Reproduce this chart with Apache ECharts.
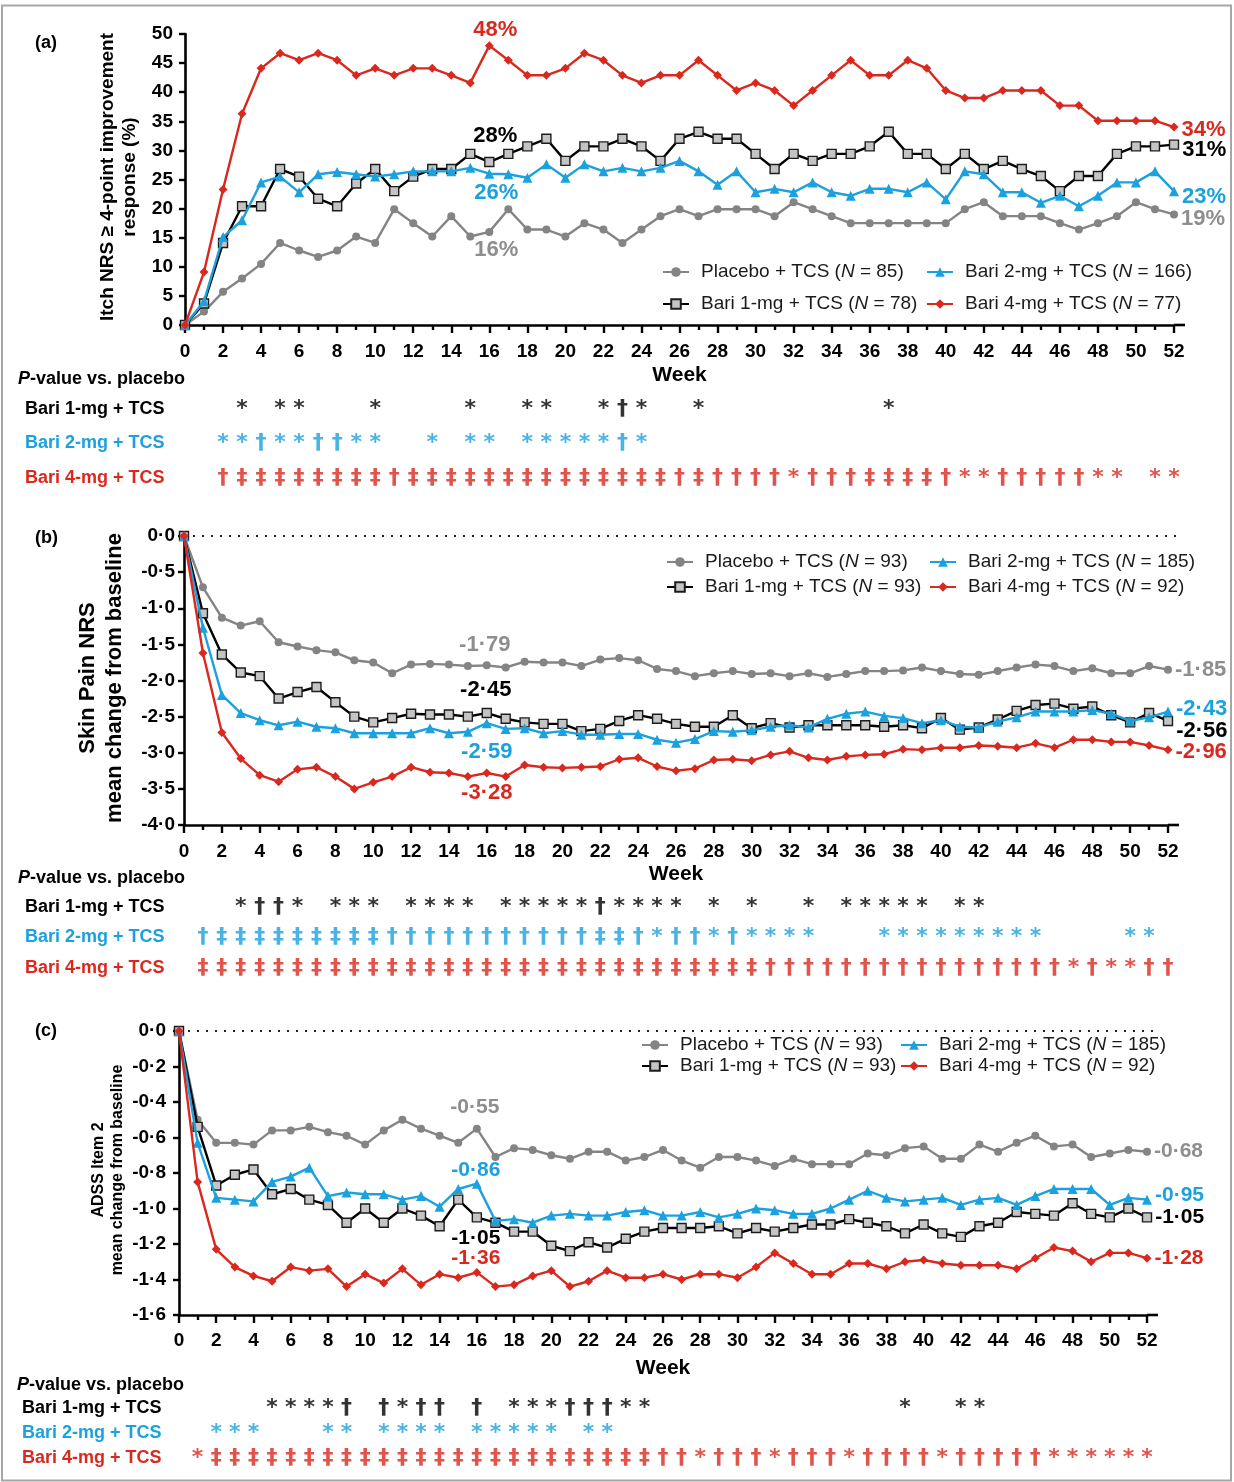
<!DOCTYPE html>
<html>
<head>
<meta charset="utf-8">
<title>Baricitinib + TCS: itch, skin pain and sleep outcomes to week 52</title>
<script src="https://cdn.jsdelivr.net/npm/echarts@6/dist/echarts.min.js"></script>
<style>
  html, body { margin: 0; padding: 0; background: #ffffff; }
  #chart { width: 1234px; height: 1482px; }
</style>
</head>
<body>
<div id="chart"></div>
<script>
// ---------- data ----------
const weeks = [0,1,2,3,4,5,6,7,8,9,10,11,12,13,14,15,16,17,18,19,20,21,22,23,24,25,26,
  27,28,29,30,31,32,33,34,35,36,37,38,39,40,41,42,43,44,45,46,47,48,49,50,51,52];

const armNames = ['Placebo + TCS', 'Bari 1-mg + TCS', 'Bari 2-mg + TCS', 'Bari 4-mg + TCS'];
const nItch = [85, 78, 166, 77];
const nPain = [93, 93, 185, 92];
const nAdss = [93, 93, 185, 92];

// (a) Itch NRS >= 4-point improvement response (%)
const itchPlacebo = [0,2.3,5.7,8.0,10.5,14.1,12.8,11.7,12.8,15.2,14.1,19.9,17.5,15.2,18.7,15.2,16,19.9,16.4,16.4,
  15.2,17.5,16.4,14.1,16.4,18.7,19.9,18.7,19.9,19.9,19.9,18.7,21.1,19.9,18.7,17.5,17.5,17.5,17.5,17.5,
  17.5,19.9,21.1,18.7,18.7,18.7,17.5,16.4,17.5,18.7,21.1,19.9,19];
const itchBari1 = [0,3.7,14.1,20.4,20.4,26.8,25.5,21.7,20.4,24.3,26.8,23.0,25.5,26.8,26.8,29.4,28,29.4,30.7,32.0,
  28.2,30.7,30.7,32.0,30.7,28.2,32.0,33.2,32.0,32.0,29.4,26.8,29.4,28.2,29.4,29.4,30.7,33.2,29.4,29.4,
  26.8,29.4,26.8,28.2,26.8,25.6,23.0,25.6,25.6,29.4,30.7,30.7,31];
const itchBari2 = [0,4.1,15.1,18.0,24.5,25.5,22.8,25.9,26.3,25.9,25.5,25.9,26.4,26.4,26.4,27.0,26,25.9,25.3,27.6,
  25.3,27.6,26.4,27.0,26.4,27.0,28.2,26.4,24.1,26.4,22.8,23.4,22.8,24.5,22.8,22.2,23.4,23.4,22.8,24.5,
  21.6,26.4,25.9,22.8,22.8,21.0,22.2,20.4,22.2,24.5,24.5,26.4,23];
const itchBari4 = [0,9.1,23.3,36.3,44.1,46.7,45.5,46.7,45.5,42.9,44.1,42.9,44.1,44.1,42.9,41.6,48,45.5,42.9,42.9,
  44.1,46.7,45.5,42.9,41.6,42.9,42.9,45.5,42.9,40.3,41.6,40.3,37.7,40.3,42.9,45.5,42.9,42.9,45.5,44.1,
  40.3,39.0,39.0,40.3,40.3,40.3,37.7,37.7,35.1,35.1,35.1,35.1,34];

// (b) Skin Pain NRS, mean change from baseline
const painPlacebo = [0,-0.71,-1.13,-1.24,-1.18,-1.47,-1.53,-1.58,-1.61,-1.72,-1.75,-1.90,-1.78,-1.77,-1.78,
  -1.80,-1.79,-1.82,-1.74,-1.75,-1.75,-1.80,-1.71,-1.69,-1.72,-1.84,-1.87,-1.94,-1.90,-1.87,-1.91,-1.90,
  -1.94,-1.90,-1.95,-1.91,-1.87,-1.87,-1.86,-1.82,-1.87,-1.91,-1.92,-1.87,-1.82,-1.78,-1.80,-1.87,-1.83,
  -1.90,-1.90,-1.80,-1.85];
const painBari1 = [0,-1.07,-1.64,-1.89,-1.94,-2.25,-2.16,-2.09,-2.30,-2.50,-2.58,-2.52,-2.46,-2.47,-2.47,
  -2.50,-2.45,-2.53,-2.58,-2.60,-2.60,-2.70,-2.67,-2.56,-2.48,-2.53,-2.60,-2.64,-2.64,-2.48,-2.66,-2.59,
  -2.65,-2.62,-2.62,-2.62,-2.62,-2.64,-2.62,-2.66,-2.52,-2.68,-2.65,-2.54,-2.42,-2.34,-2.32,-2.39,-2.36,
  -2.48,-2.58,-2.45,-2.56];
const painBari2 = [0,-1.27,-2.20,-2.45,-2.55,-2.62,-2.57,-2.64,-2.66,-2.73,-2.73,-2.73,-2.73,-2.66,-2.73,
  -2.71,-2.59,-2.67,-2.66,-2.73,-2.70,-2.75,-2.75,-2.74,-2.74,-2.82,-2.86,-2.81,-2.70,-2.71,-2.69,-2.64,
  -2.62,-2.65,-2.53,-2.46,-2.43,-2.49,-2.52,-2.59,-2.55,-2.64,-2.65,-2.57,-2.51,-2.43,-2.43,-2.43,-2.41,
  -2.46,-2.56,-2.51,-2.43];
const painBari4 = [0,-1.62,-2.72,-3.08,-3.31,-3.40,-3.23,-3.20,-3.33,-3.50,-3.41,-3.33,-3.20,-3.27,-3.28,
  -3.33,-3.28,-3.33,-3.17,-3.20,-3.21,-3.20,-3.19,-3.09,-3.07,-3.19,-3.25,-3.22,-3.10,-3.09,-3.11,-3.03,
  -2.98,-3.07,-3.10,-3.05,-3.03,-3.02,-2.95,-2.96,-2.93,-2.93,-2.90,-2.91,-2.93,-2.87,-2.93,-2.82,-2.82,
  -2.85,-2.85,-2.90,-2.96];

// (c) ADSS Item 2, mean change from baseline
const adssPlacebo = [0,-0.50,-0.63,-0.63,-0.64,-0.56,-0.56,-0.54,-0.57,-0.59,-0.64,-0.56,-0.50,-0.55,-0.59,
  -0.63,-0.55,-0.71,-0.66,-0.67,-0.70,-0.72,-0.68,-0.68,-0.73,-0.71,-0.67,-0.73,-0.77,-0.71,-0.71,-0.73,
  -0.76,-0.72,-0.75,-0.75,-0.75,-0.69,-0.70,-0.66,-0.65,-0.72,-0.72,-0.64,-0.68,-0.63,-0.59,-0.65,-0.64,
  -0.71,-0.69,-0.67,-0.68];
const adssBari1 = [0,-0.54,-0.87,-0.81,-0.78,-0.92,-0.89,-0.95,-0.98,-1.08,-1.00,-1.08,-1.00,-1.04,-1.10,
  -0.95,-1.05,-1.08,-1.13,-1.13,-1.21,-1.24,-1.19,-1.22,-1.17,-1.13,-1.11,-1.11,-1.11,-1.10,-1.14,-1.11,
  -1.13,-1.11,-1.09,-1.09,-1.06,-1.08,-1.10,-1.14,-1.09,-1.14,-1.16,-1.10,-1.08,-1.02,-1.03,-1.04,-0.97,
  -1.03,-1.05,-1.00,-1.05];
const adssBari2 = [0,-0.63,-0.94,-0.95,-0.96,-0.85,-0.82,-0.77,-0.93,-0.91,-0.92,-0.92,-0.95,-0.93,-0.99,
  -0.89,-0.86,-1.07,-1.06,-1.08,-1.04,-1.03,-1.04,-1.04,-1.02,-1.01,-1.04,-1.04,-1.02,-1.05,-1.03,-1.00,
  -1.01,-1.03,-1.03,-1.00,-0.95,-0.90,-0.94,-0.96,-0.95,-0.94,-0.98,-0.95,-0.94,-0.98,-0.93,-0.89,-0.89,
  -0.89,-0.98,-0.94,-0.95];
const adssBari4 = [0,-0.85,-1.23,-1.33,-1.38,-1.41,-1.33,-1.35,-1.34,-1.44,-1.37,-1.42,-1.34,-1.43,-1.37,
  -1.39,-1.36,-1.44,-1.43,-1.38,-1.35,-1.44,-1.41,-1.35,-1.39,-1.39,-1.37,-1.40,-1.37,-1.37,-1.39,-1.33,
  -1.25,-1.31,-1.37,-1.37,-1.31,-1.31,-1.34,-1.30,-1.29,-1.31,-1.32,-1.32,-1.32,-1.34,-1.28,-1.22,-1.24,
  -1.30,-1.25,-1.25,-1.28];

// P-value symbols vs placebo, by week
const sigItch1 = { star: [3,5,6,10,15,18,19,22,24,27,37], dag: [23], ddag: [] };
const sigItch2 = { star: [2,3,5,6,9,10,13,15,16,18,19,20,21,22,24], dag: [4,7,8,23], ddag: [] };
const sigItch4 = { star: [32,41,42,48,49,51,52],
  dag: [2,11,26,28,29,30,31,33,34,35,40,43,44,45,46,47],
  ddag: [3,4,5,6,7,8,9,10,12,13,14,15,16,17,18,19,20,21,22,23,24,25,27,36,37,38,39] };

const sigPain1 = { star: [3,6,8,9,10,12,13,14,15,17,18,19,20,21,23,24,25,26,28,30,33,35,36,37,38,39,41,42],
  dag: [4,5,22], ddag: [] };
const sigPain2 = { star: [25,28,30,31,32,33,37,38,39,40,41,42,43,44,45,50,51],
  dag: [1,11,12,13,14,15,16,17,18,19,20,21,24,26,27,29],
  ddag: [2,3,4,5,6,7,8,9,10,22,23] };
const sigPain4 = { star: [47,49,50],
  dag: [31,32,33,34,35,36,37,38,39,40,41,42,43,44,45,46,48,51,52],
  ddag: [1,2,3,4,5,6,7,8,9,10,11,12,13,14,15,16,17,18,19,20,21,22,23,24,25,26,27,28,29,30] };

const sigAdss1 = { star: [5,6,7,8,12,18,19,20,24,25,39,42,43], dag: [9,11,13,14,16,21,22,23], ddag: [] };
const sigAdss2 = { star: [2,3,4,8,9,11,12,13,14,16,17,18,19,20,22,23], dag: [], ddag: [] };
const sigAdss4 = { star: [1,28,32,36,41,47,48,49,50,51,52],
  dag: [26,27,29,30,31,33,34,35,37,38,39,40,42,43,44,45,46],
  ddag: [2,3,4,5,6,7,8,9,10,11,12,13,14,15,16,17,18,19,20,21,22,23,24,25] };

// ---------- styles ----------
const FONT = '"Liberation Sans", Arial, Helvetica, sans-serif';
const GLYPH_FONT = '"DejaVu Sans", "Liberation Sans", Arial, sans-serif';
const RED = '#d9291f', BLUE = '#1ba1dd', GRAY = '#848484', BLACK = '#000000';
const TEXT_GRAY = '#8e8e8e';

const armStyle = [
  { line: GRAY,  symbol: 'circle',   size: 8,  fill: GRAY,      border: GRAY,      bw: 0,   text: TEXT_GRAY },
  { line: BLACK, symbol: 'rect',     size: 9,  fill: '#c4c4c4', border: '#1c1c1c', bw: 1.4, text: BLACK },
  { line: BLUE,  symbol: 'triangle', size: 10, fill: BLUE,      border: BLUE,      bw: 0,   text: BLUE },
  { line: RED,   symbol: 'diamond',  size: 9,  fill: RED,       border: RED,       bw: 0,   text: RED }
];
const rowColors = [BLACK, BLUE, RED];

const pct = v => Math.round(v) + '%';
const dot2 = v => v.toFixed(2).replace('.', '\u00b7');
const dot1 = v => (Math.abs(v) < 1e-9 ? 0 : v).toFixed(1).replace('.', '\u00b7');

const panels = [
  { grid: { left: 185, top: 34, width: 989, height: 291 },
    sigGrid: { left: 185, top: 409, width: 989, height: 69 },
    y: { min: 0, max: 50, interval: 5, fmt: v => String(v), margin: 12 },
    xMargin: 17, nameGap: 40,
    series: [itchPlacebo, itchBari1, itchBari2, itchBari4], n: nItch,
    sig: [sigItch1, sigItch2, sigItch4],
    fmt: pct, labelSize: 22,
    midOff: [[7, 18], [6, -26], [7, 19], [6, -16]],
    endOff: [[0, 5], [0, 5], [0, 6], [0, 3]],
    rowLabelX: 25, zeroLine: false },
  { grid: { left: 184, top: 536, width: 984, height: 289 },
    sigGrid: { left: 184, top: 907, width: 984, height: 61 },
    y: { min: -4, max: 0, interval: 0.5, fmt: dot1, margin: 9 },
    xMargin: 17, nameGap: 39,
    series: [painPlacebo, painBari1, painBari2, painBari4], n: nPain,
    sig: [sigPain1, sigPain2, sigPain4],
    fmt: dot2, labelSize: 22,
    midOff: [[-2, -20], [-1, -23], [0, 29], [0, 20]],
    endOff: [[0, 0], [0, 10], [0, -3], [0, 2]],
    rowLabelX: 25, zeroLine: true },
  { grid: { left: 179, top: 1031, width: 968, height: 284 },
    sigGrid: { left: 179, top: 1408, width: 968, height: 50 },
    y: { min: -1.6, max: 0, interval: 0.2, fmt: dot1, margin: 13 },
    xMargin: 16, nameGap: 43,
    series: [adssPlacebo, adssBari1, adssBari2, adssBari4], n: nAdss,
    sig: [sigAdss1, sigAdss2, sigAdss4],
    fmt: dot2, labelSize: 21,
    midOff: [[-2, -21], [-1, 21], [-1, -13], [-1, -14]],
    endOff: [[0, 0], [0, 0], [0, -4], [0, 0]],
    rowLabelX: 22, zeroLine: true }
];

// ---------- option ----------
const grids = [], xAxes = [], yAxes = [], series = [];

panels.forEach((pd, p) => {
  grids.push(Object.assign({ containLabel: false }, pd.grid));
  xAxes.push({
    type: 'value', gridIndex: p, min: 0, max: 52, interval: 2,
    name: 'Week', nameLocation: 'middle', nameGap: pd.nameGap,
    nameTextStyle: { fontFamily: FONT, fontSize: 21, fontWeight: 'bold', color: BLACK },
    axisLine: { onZero: false, lineStyle: { color: BLACK, width: 2.6 } },
    axisTick: { length: 8, lineStyle: { color: BLACK, width: 2.4 } },
    minorTick: { show: true, splitNumber: 2, length: 5, lineStyle: { color: BLACK, width: 2.4 } },
    splitLine: { show: false }, minorSplitLine: { show: false },
    axisLabel: { margin: pd.xMargin, fontFamily: FONT, fontSize: 19, fontWeight: 'bold', color: BLACK }
  });
  yAxes.push({
    type: 'value', gridIndex: p, min: pd.y.min, max: pd.y.max, interval: pd.y.interval,
    axisLine: { onZero: false, lineStyle: { color: BLACK, width: 2.6 } },
    axisTick: { length: 6, lineStyle: { color: BLACK, width: 2.4 } },
    splitLine: { show: false },
    axisLabel: { margin: pd.y.margin, formatter: pd.y.fmt, fontFamily: FONT, fontSize: 19,
                 fontWeight: 'bold', color: BLACK }
  });

  pd.series.forEach((vals, arm) => {
    const st = armStyle[arm];
    const data = vals.map((v, i) => {
      const item = { value: [weeks[i], v] };
      if (i === 16 || i === 52) {
        const mid = i === 16;
        item.label = {
          show: true, position: mid ? 'inside' : 'right', distance: 3,
          offset: mid ? pd.midOff[arm] : pd.endOff[arm],
          formatter: q => pd.fmt(q.value[1]),
          color: st.text, fontFamily: FONT, fontSize: pd.labelSize, fontWeight: 'bold'
        };
      }
      return item;
    });
    series.push({
      type: 'line', name: armNames[arm] + ' (N = ' + pd.n[arm] + ')',
      xAxisIndex: p, yAxisIndex: p, data,
      symbol: st.symbol, symbolSize: st.size, showSymbol: true, showAllSymbol: true,
      clip: false, z: 3 + arm,
      lineStyle: { color: st.line, width: 2.4 },
      itemStyle: { color: st.fill, borderColor: st.border, borderWidth: st.bw },
      label: { show: false },
      emphasis: { disabled: true }
    });
  });
});

// significance rows under each panel
panels.forEach((pd, p) => {
  const gi = 3 + p;
  grids.push(Object.assign({ containLabel: false }, pd.sigGrid));
  xAxes.push({ type: 'value', gridIndex: gi, min: 0, max: 52, show: false });
  yAxes.push({
    type: 'category', gridIndex: gi, inverse: true, boundaryGap: false,
    data: armNames.slice(1),
    axisLine: { show: false }, axisTick: { show: false }, splitLine: { show: false },
    axisLabel: { align: 'left', margin: pd.sigGrid.left - pd.rowLabelX, fontFamily: FONT,
                 fontSize: 18, fontWeight: 'bold', color: (v, i) => rowColors[i] }
  });
  pd.sig.forEach((sig, row) => {
    const data = [];
    sig.star.forEach(w => data.push({ value: [w, row], glyph: '*' }));
    sig.dag.forEach(w => data.push({ value: [w, row], glyph: '\u2020' }));
    sig.ddag.forEach(w => data.push({ value: [w, row], glyph: '\u2021' }));
    series.push({
      type: 'scatter', xAxisIndex: gi, yAxisIndex: gi, data, silent: true,
      symbolSize: 2, itemStyle: { color: 'rgba(0,0,0,0)' },
      label: { show: true, position: 'inside', formatter: q => q.data.glyph,
               color: rowColors[row], fontFamily: GLYPH_FONT, fontSize: 22, fontWeight: 'bold' },
      emphasis: { disabled: true }
    });
  });
});

// legends: two columns per panel
const legendText = { fontFamily: FONT, fontSize: 19, color: '#1a1a1a', lineHeight: 20,
  padding: [0, 0, 0, 7],
  rich: { i: { fontFamily: FONT, fontSize: 19, fontStyle: 'italic', lineHeight: 20, color: '#1a1a1a' } } };
const legendFmt = name => name.replace('(N', '({i|N}');
const legendPos = [
  { lx: 662, rx: 926, top: 262, gap: 12 },
  { lx: 666, rx: 929, top: 552, gap: 5 },
  { lx: 641, rx: 900, top: 1035, gap: 1 }
];
const legends = [];
panels.forEach((pd, p) => {
  const names = armNames.map((a, i) => a + ' (N = ' + pd.n[i] + ')');
  const lp = legendPos[p];
  [[names[0], names[1], lp.lx], [names[2], names[3], lp.rx]].forEach(col => {
    legends.push({
      data: [col[0], col[1]], orient: 'vertical', left: col[2], top: lp.top, padding: 0,
      itemGap: lp.gap, itemWidth: 26, itemHeight: 12, selectedMode: false,
      textStyle: legendText, formatter: legendFmt
    });
  });
});

const chart = echarts.init(document.getElementById('chart'), null, { renderer: 'canvas' });
chart.setOption({
  animation: false,
  backgroundColor: '#ffffff',
  grid: grids, xAxis: xAxes, yAxis: yAxes, legend: legends, series
});

// ---------- annotations ----------
const txt = (x, y, text, extra) => ({
  type: 'text', x, y, silent: true,
  style: Object.assign({ text, fill: BLACK, fontFamily: FONT, fontSize: 18, fontWeight: 'bold',
                         align: 'left', verticalAlign: 'middle' }, extra || {})
});
const pvalRich = { i: { fontFamily: FONT, fontSize: 18, fontWeight: 'bold', fontStyle: 'italic', fill: BLACK } };

const graphics = [
  { type: 'rect', silent: true, shape: { x: 2, y: 5.5, width: 1229, height: 1475 },
    style: { fill: 'none', stroke: '#a6a6a6', lineWidth: 2 } },
  txt(35, 43, '(a)'), txt(35, 538, '(b)'), txt(35, 1031, '(c)'),
  txt(18, 379, '{i|P}-value vs. placebo', { rich: pvalRich }),
  txt(18, 878, '{i|P}-value vs. placebo', { rich: pvalRich }),
  txt(17, 1385, '{i|P}-value vs. placebo', { rich: pvalRich }),
  Object.assign(txt(119, 177, 'Itch NRS \u2265 4-point improvement\nresponse (%)',
    { align: 'center', fontSize: 19, lineHeight: 22 }), { rotation: Math.PI / 2 }),
  Object.assign(txt(101, 678, 'Skin Pain NRS\nmean change from baseline',
    { align: 'center', fontSize: 22, lineHeight: 27 }), { rotation: Math.PI / 2 }),
  Object.assign(txt(108, 1170, 'ADSS Item 2\nmean change from baseline',
    { align: 'center', fontSize: 16, lineHeight: 19 }), { rotation: Math.PI / 2 })
];

panels.forEach((pd, p) => {
  // x-axis runs a little past the last week
  const end = chart.convertToPixel({ xAxisIndex: p, yAxisIndex: p }, [52, pd.y.min]);
  graphics.push({ type: 'line', silent: true, z: 10,
    shape: { x1: end[0], y1: end[1], x2: end[0] + 11, y2: end[1] },
    style: { stroke: BLACK, lineWidth: 2.6 } });
  if (pd.zeroLine) {
    const a = chart.convertToPixel({ xAxisIndex: p, yAxisIndex: p }, [0, 0]);
    const b = chart.convertToPixel({ xAxisIndex: p, yAxisIndex: p }, [52, 0]);
    graphics.push({ type: 'line', silent: true, z: 1,
      shape: { x1: a[0], y1: a[1], x2: b[0] + 10, y2: b[1] },
      style: { stroke: '#222', lineWidth: 2, lineDash: [2, 7] } });
  }
});

chart.setOption({ graphic: graphics });
</script>
</body>
</html>
